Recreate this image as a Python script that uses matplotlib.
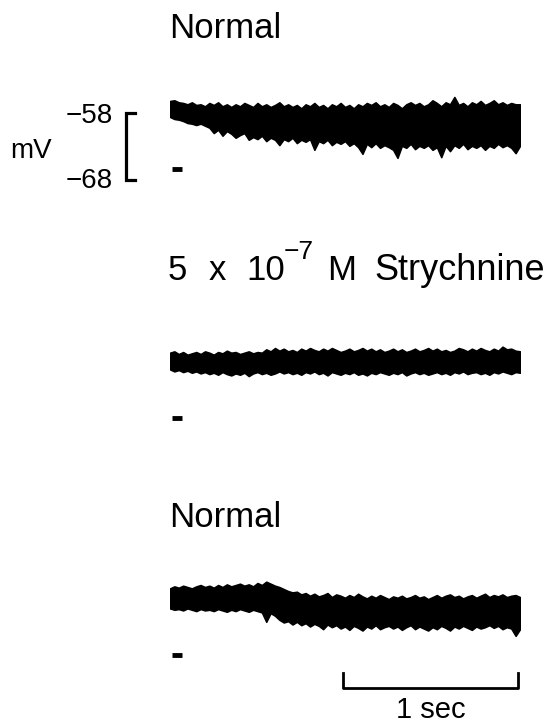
import numpy as np
import matplotlib
matplotlib.use("Agg")
import matplotlib.pyplot as plt

plt.rcParams['font.family'] = ['Liberation Sans', 'DejaVu Sans']

# ---------------- data ----------------
# time axis of each recording (seconds), sampled every 25 ms
time_s = np.arange(81) * 0.025

# Trace 1 (Normal) envelope, mV
trace1_top = [-56.2, -56.1, -56.4, -56.5, -56.7, -56.4, -56.8, -56.7, -57.0, -56.5,
              -56.8, -56.4, -57.0, -56.7, -57.1, -56.7, -57.0, -56.5, -56.8, -57.1,
              -56.5, -57.0, -56.7, -57.1, -56.8, -56.4, -57.0, -56.7, -57.1, -56.8,
              -57.3, -56.7, -57.0, -56.5, -57.1, -56.8, -57.3, -56.7, -57.0, -56.5,
              -57.1, -56.8, -57.3, -56.7, -57.0, -56.5, -56.8, -56.4, -57.0, -56.7,
              -57.1, -56.5, -56.8, -57.3, -56.7, -56.4, -56.8, -56.5, -57.0, -56.7,
              -56.1, -56.5, -57.0, -56.4, -56.7, -55.6, -56.8, -56.5, -57.0, -56.4,
              -56.7, -56.2, -56.8, -56.5, -56.1, -56.7, -56.4, -56.8, -56.5, -56.7,
              -56.7]
trace1_bottom = [-58.6, -58.9, -59.0, -59.2, -59.5, -59.6, -59.8, -59.6, -59.9, -60.2,
                 -61.0, -60.5, -61.4, -60.7, -61.1, -61.7, -61.3, -61.0, -62.0, -61.6,
                 -61.9, -61.4, -62.2, -61.7, -62.0, -62.8, -61.9, -62.2, -61.7, -62.5,
                 -62.0, -62.3, -61.9, -63.5, -62.2, -62.5, -62.0, -62.8, -62.3, -62.6,
                 -62.2, -62.9, -62.5, -63.1, -64.1, -62.6, -63.1, -62.5, -63.2, -62.8,
                 -63.1, -63.5, -64.7, -62.9, -63.2, -62.6, -63.4, -62.9, -63.2, -62.8,
                 -63.5, -63.1, -64.6, -62.9, -63.7, -62.8, -63.2, -62.6, -63.4, -62.9,
                 -63.2, -62.8, -63.5, -62.9, -63.2, -62.6, -63.1, -62.8, -63.2, -64.0,
                 -62.9]

# Trace 2 (5 x 10^-7 M strychnine) envelope, mV
trace2_top = [-58.1, -57.9, -58.3, -58.0, -58.4, -58.2, -58.0, -58.3, -57.9, -58.1,
              -58.4, -58.0, -58.2, -57.8, -58.1, -58.0, -58.3, -58.1, -57.9, -58.2,
              -58.0, -58.1, -57.6, -57.9, -57.4, -57.8, -57.5, -57.9, -57.7, -58.0,
              -57.5, -57.8, -57.4, -57.7, -57.9, -57.5, -57.8, -57.4, -57.7, -58.0,
              -57.8, -57.5, -57.9, -57.7, -57.4, -57.8, -57.5, -57.9, -57.6, -58.0,
              -57.8, -57.5, -57.9, -57.6, -58.0, -57.8, -57.5, -57.9, -57.7, -57.4,
              -57.8, -57.5, -57.9, -57.7, -58.0, -57.8, -57.4, -57.6, -57.9, -57.5,
              -57.8, -57.4, -57.7, -57.9, -57.5, -57.8, -57.2, -57.6, -57.5, -57.8,
              -57.9]
trace2_bottom = [-60.6, -60.9, -60.7, -61.0, -60.8, -61.1, -60.9, -61.2, -61.0, -61.3,
                 -61.1, -61.4, -61.0, -61.3, -61.5, -61.2, -61.4, -61.1, -61.6, -61.2,
                 -61.0, -61.3, -61.1, -61.4, -61.2, -60.9, -61.2, -61.0, -61.3, -61.1,
                 -61.4, -61.0, -61.2, -60.9, -61.3, -61.1, -61.5, -61.0, -61.2, -61.4,
                 -61.1, -61.3, -61.0, -61.4, -61.2, -61.5, -61.1, -61.3, -61.0, -61.2,
                 -61.4, -61.1, -61.3, -61.0, -61.5, -61.2, -61.0, -61.3, -61.1, -61.4,
                 -61.2, -61.0, -61.3, -61.1, -61.4, -61.0, -61.2, -60.9, -61.3, -61.1,
                 -61.0, -61.3, -61.1, -61.4, -61.0, -61.2, -60.9, -61.1, -61.3, -61.0,
                 -61.1]

# Trace 3 (Normal, wash) envelope, mV
trace3_top = [-58.5, -58.2, -58.4, -58.1, -58.3, -58.5, -58.2, -58.0, -58.3, -58.1,
              -58.4, -58.0, -58.3, -57.9, -58.2, -58.0, -57.8, -58.1, -57.9, -58.2,
              -57.7, -58.0, -57.5, -57.8, -58.1, -58.3, -58.6, -58.9, -59.1, -59.0,
              -59.4, -59.2, -59.6, -59.3, -59.7, -59.5, -59.2, -59.8, -59.4, -59.6,
              -59.9, -59.5, -59.8, -59.3, -59.7, -60.0, -59.6, -59.9, -59.5, -59.8,
              -60.1, -59.7, -59.9, -59.6, -60.0, -59.8, -59.5, -59.9, -59.7, -60.1,
              -59.8, -59.5, -59.9, -59.6, -59.4, -59.8, -59.6, -60.0, -59.7, -59.5,
              -59.9, -59.6, -59.3, -59.8, -59.5, -59.7, -59.4, -59.8, -59.6, -59.5,
              -59.8]
trace3_bottom = [-61.5, -61.7, -61.6, -61.8, -61.5, -61.7, -61.9, -61.6, -61.8, -61.7,
                 -61.9, -61.6, -61.8, -62.0, -61.7, -61.9, -61.6, -61.8, -62.0, -61.7,
                 -61.9, -62.1, -63.5, -62.2, -62.6, -63.2, -63.6, -63.4, -63.9, -63.5,
                 -64.0, -63.7, -64.2, -63.8, -64.1, -64.6, -63.9, -64.3, -64.0, -64.5,
                 -64.2, -64.7, -64.1, -64.4, -64.8, -64.2, -64.5, -64.0, -64.6, -64.3,
                 -64.1, -64.5, -64.2, -64.7, -64.3, -64.0, -64.6, -64.2, -64.5, -64.8,
                 -64.3, -64.6, -64.1, -64.4, -64.8, -64.2, -64.5, -64.1, -64.4, -64.7,
                 -64.2, -64.5, -64.3, -64.0, -64.4, -64.1, -64.6, -64.3, -64.5, -65.6,
                 -64.6]

# zero-current marker levels (mV) under each trace
marker_levels = [-66.4, -67.85, -68.5]
marker_span_s = [0.01, 0.07]

# calibration
cal_mv = [-58, -68]
cal_labels = ["\u221258", "\u221268"]
cal_unit = "mV"
time_bar_s = [0.99, 1.99]
time_bar_label = "1 sec"

titles = ["Normal", "Normal"]
strych_parts = ["5", "x", "10", "\u22127", "M", "Strychnine"]

# ---------------- figure ----------------
W, H = 549, 723
PX_PER_MV = 6.7
fig = plt.figure(figsize=(W / 100, H / 100), dpi=100)
fig.patch.set_facecolor("white")


def trace_axes(ref_mv, ref_px, ylim):
    top_px = ref_px - (ylim[1] - ref_mv) * PX_PER_MV
    bot_px = ref_px + (ref_mv - ylim[0]) * PX_PER_MV
    ax = fig.add_axes([170 / W, 1 - bot_px / H, 350 / W, (bot_px - top_px) / H])
    ax.set_xlim(0, 2)
    ax.set_ylim(*ylim)
    ax.axis("off")
    return ax


ax1 = trace_axes(-58, 113, (-70, -54))
ax2 = trace_axes(-58, 352, (-70, -54))
ax3 = trace_axes(-58, 585, (-76, -54))

for ax, top, bot, lvl in zip([ax1, ax2, ax3],
                             [trace1_top, trace2_top, trace3_top],
                             [trace1_bottom, trace2_bottom, trace3_bottom],
                             marker_levels):
    ax.fill_between(time_s, bot, top, facecolor="black", edgecolor="black", lw=1.1)
    ax.plot(marker_span_s, [lvl, lvl], color="black", lw=3.5, solid_capstyle="butt")

# voltage calibration bracket (trace 1)
bx, tx = -0.249, -0.2
ax1.plot([tx, bx, bx, tx], [cal_mv[0], cal_mv[0], cal_mv[1], cal_mv[1]],
         color="black", lw=2.3, clip_on=False, solid_joinstyle="miter")
ax1.text(-0.326, cal_mv[0] - 1.5, cal_labels[0], ha="right", va="baseline",
         fontsize=20, clip_on=False)
ax1.text(-0.326, cal_mv[1] - 1.2, cal_labels[1], ha="right", va="baseline",
         fontsize=20, clip_on=False)
ax1.text(-0.915, -64.75, cal_unit, ha="left", va="baseline", fontsize=20,
         clip_on=False)

# time calibration bar (trace 3)
y_bar, y_tick = -73.4, -71.2
ax3.plot([time_bar_s[0], time_bar_s[0], time_bar_s[1], time_bar_s[1]],
         [y_tick, y_bar, y_bar, y_tick], color="black", lw=2.0, clip_on=False)
ax3.text(sum(time_bar_s) / 2, -77.85, time_bar_label, ha="center", va="baseline",
         fontsize=21, clip_on=False)


def ftext(xpx, ypx, s, **kw):
    fig.text(xpx / W, 1 - ypx / H, s, va="baseline", ha="left", **kw)


ftext(169, 38, titles[0], fontsize=25)
ftext(169, 527, titles[1], fontsize=25)
# "5 x 10^-7 M Strychnine"
ftext(168, 280, strych_parts[0], fontsize=25)
ftext(209, 280, strych_parts[1], fontsize=25)
ftext(246, 280, strych_parts[2], fontsize=25)
ftext(284, 259, strych_parts[3], fontsize=19)
ftext(327, 280, strych_parts[4], fontsize=25)
ftext(374, 280, strych_parts[5], fontsize=26)

fig.savefig("out.png", dpi=100, facecolor="white")
